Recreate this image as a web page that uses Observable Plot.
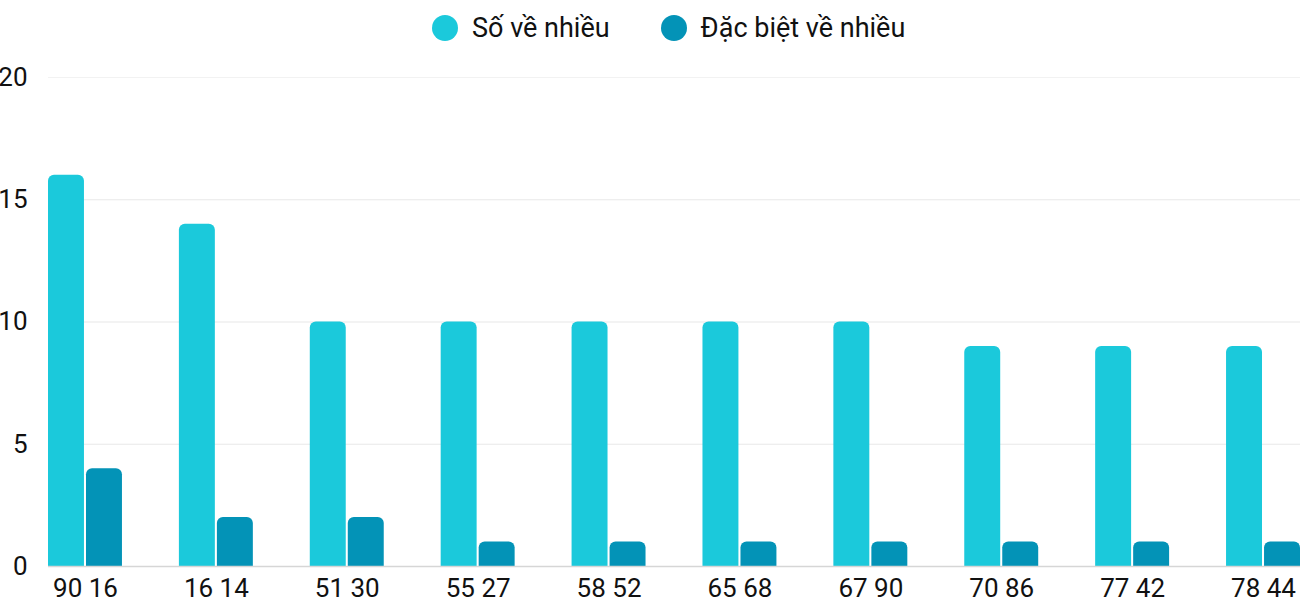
<!DOCTYPE html>
<html>
<head>
<meta charset="utf-8">
<script src="https://cdn.jsdelivr.net/npm/d3@7"></script>
<script src="https://cdn.jsdelivr.net/npm/@observablehq/plot@0.6"></script>
<style>
  body { margin: 0; background: #fff; font-family: Roboto, "Noto Sans", sans-serif; }
  #legend { height: 52px; padding-top: 3px; display: flex; align-items: center; padding-left: 432px; box-sizing: border-box; font-size: 27px; color: #111; }
  .item { display: flex; align-items: center; margin-right: 51px; }
  .dot { width: 26px; height: 26px; border-radius: 50%; margin-right: 14px; }
</style>
</head>
<body>
<div id="legend"></div>
<div id="chart"></div>
<script>
const categories = ["90 16","16 14","51 30","55 27","58 52","65 68","67 90","70 86","77 42","78 44"];
const soVeNhieu = [16,14,10,10,10,10,10,9,9,9];
const dacBietVeNhieu = [4,2,2,1,1,1,1,1,1,1];
const seriesNames = ["Số về nhiều", "Đặc biệt về nhiều"];
const colors = ["#1bc9db", "#0393b7"];
const yTicks = [0,5,10,15,20];

const legend = document.getElementById("legend");
seriesNames.forEach((n, i) => {
  const it = document.createElement("div"); it.className = "item";
  const d = document.createElement("span"); d.className = "dot"; d.style.background = colors[i];
  const t = document.createElement("span"); t.textContent = n;
  it.append(d, t); legend.append(it);
});

const dataA = categories.map((c, i) => ({cat: c, v: soVeNhieu[i]}));
const dataB = categories.map((c, i) => ({cat: c, v: dacBietVeNhieu[i]}));

const chart = Plot.plot({
  width: 1300,
  height: 548,
  marginLeft: 48,
  marginRight: 0,
  marginTop: 25,
  marginBottom: 34,
  style: {fontFamily: "Roboto, sans-serif", fontSize: "26px", color: "#111", background: "#fff", overflow: "visible"},
  x: {domain: categories, paddingInner: 0.435, paddingOuter: 0, align: 0, round: false},
  y: {domain: [0, 20]},
  marks: [
    Plot.ruleY([5, 10, 15], {stroke: "#e8e8e8", strokeWidth: 1.2}),
    Plot.ruleY([20], {stroke: "#f2f2f2", strokeWidth: 1.2}),
    Plot.barY(dataA, {x: "cat", y: "v", fill: colors[0], insetRight: 38, insetBottom: -12, rx: 6, clip: true}),
    Plot.barY(dataB, {x: "cat", y: "v", fill: colors[1], insetLeft: 38, insetBottom: -12, rx: 6, clip: true}),
    Plot.ruleY([0], {stroke: "#d6d6d6", strokeWidth: 1.5}),
    Plot.axisY({ticks: yTicks, tickSize: 0, tickPadding: 21, label: null, fontSize: 26}),
    Plot.axisX({tickSize: 0, tickPadding: 12, label: null, fontSize: 26})
  ]
});
document.getElementById("chart").append(chart);
</script>
</body>
</html>
